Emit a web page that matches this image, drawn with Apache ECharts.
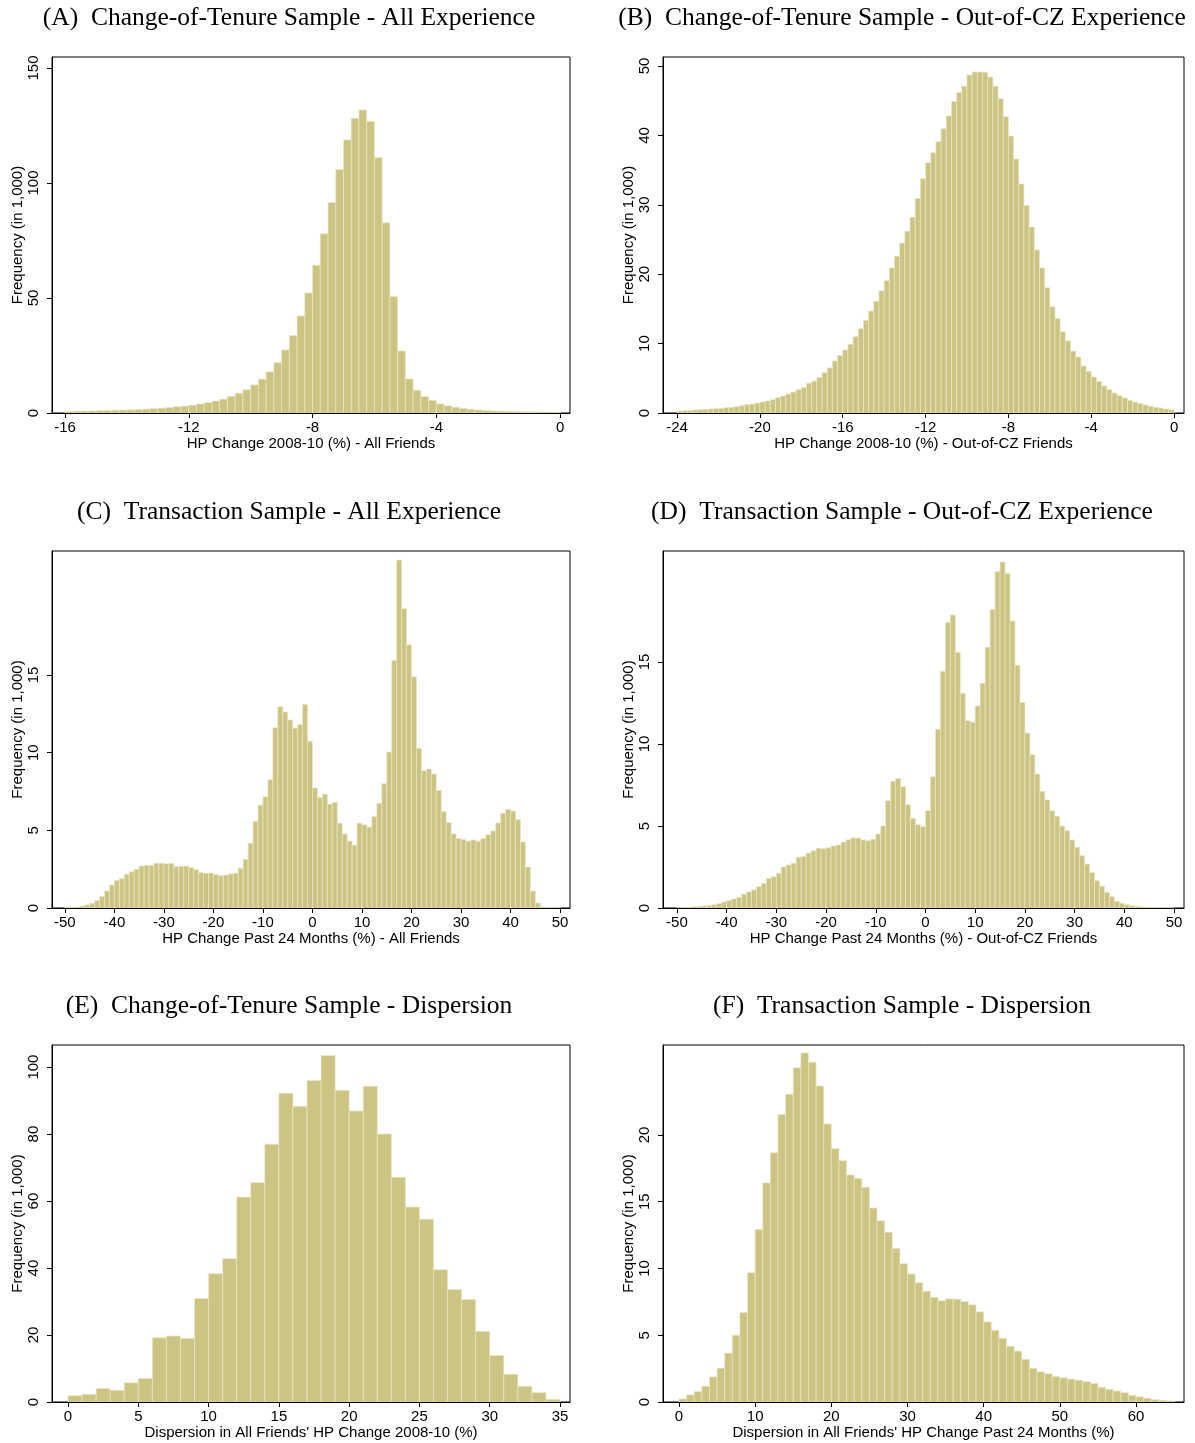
<!DOCTYPE html>
<html>
<head>
<meta charset="utf-8">
<script src="https://cdn.jsdelivr.net/npm/echarts@6/dist/echarts.min.js"></script>
<style>
html,body{margin:0;padding:0;background:#fff;}
#chart{width:1195px;height:1443px;}
</style>
</head>
<body>
<div id="chart"></div>
<script>
// ---------- data (frequencies in 1,000) ----------
const titles = [
  "(A)  Change-of-Tenure Sample - All Experience",
  "(B)  Change-of-Tenure Sample - Out-of-CZ Experience",
  "(C)  Transaction Sample - All Experience",
  "(D)  Transaction Sample - Out-of-CZ Experience",
  "(E)  Change-of-Tenure Sample - Dispersion",
  "(F)  Transaction Sample - Dispersion"
];
const xNames = [
  "HP Change 2008-10 (%) - All Friends",
  "HP Change 2008-10 (%) - Out-of-CZ Friends",
  "HP Change Past 24 Months (%) - All Friends",
  "HP Change Past 24 Months (%) - Out-of-CZ Friends",
  "Dispersion in All Friends' HP Change 2008-10 (%)",
  "Dispersion in All Friends' HP Change Past 24 Months (%)"
];
const yName = "Frequency (in 1,000)";

// bin start and width per panel
const binStart = [-16, -24, -50, -50, 0, 0];
const binWidth = [0.25, 0.25, 1, 1, 1, 1];

const countsA = [
  0.7, 0.8, 0.85, 0.9, 1.0, 1.1, 1.2, 1.3, 1.4, 1.5, 1.7, 1.9, 2.1, 2.4, 2.7, 3.0,
  3.4, 3.9, 4.5, 5.2, 6.0, 7.2, 8.6, 10.1, 12.2, 14.7, 17.9, 21.9, 27.4, 33.7, 42.2, 52.2,
  64.3, 77.9, 91.5, 105.9, 118.7, 128.2, 131.7, 126.8, 111.0, 82.7, 50.7, 27.0, 14.8, 9.9, 7.2, 5.5,
  4.0, 3.1, 2.5, 2.0, 1.6, 1.3, 1.1, 0.9, 0.8, 0.7, 0.6, 0.5, 0.45, 0.4, 0.35, 0.3
];
const countsB = [
  0.29, 0.34, 0.38, 0.43, 0.48, 0.53, 0.58, 0.62, 0.67, 0.77, 0.82, 0.91, 1.06, 1.2, 1.3, 1.44,
  1.58, 1.73, 1.92, 2.2, 2.45, 2.74, 3.02, 3.36, 3.65, 4.3, 4.6, 5.1, 5.8, 6.5, 7.5, 8.3,
  9.07, 9.9, 11.0, 12.15, 13.35, 14.7, 16.1, 17.6, 19.06, 20.9, 22.6, 24.5, 26.2, 28.2, 30.9, 33.75,
  36.05, 37.5, 39.1, 40.95, 42.8, 44.9, 46.2, 47.1, 48.7, 49.15, 49.15, 49.1, 48.4, 47.1, 45.3, 42.7,
  39.9, 36.6, 33.0, 29.9, 26.8, 23.5, 20.9, 18.05, 15.3, 13.6, 11.7, 10.4, 8.93, 8.07, 6.77, 6.0,
  5.18, 4.56, 3.89, 3.36, 2.88, 2.5, 2.16, 1.82, 1.58, 1.34, 1.15, 0.96, 0.82, 0.72, 0.58, 0.48
];
const countsC = [
  0.03, 0.05, 0.07, 0.13, 0.2, 0.3, 0.47, 0.75, 1.1, 1.48,
  1.78, 1.89, 2.17, 2.34, 2.5, 2.7, 2.75, 2.75, 2.88, 2.88,
  2.84, 2.86, 2.66, 2.68, 2.7, 2.6, 2.47, 2.27, 2.23, 2.25,
  2.15, 2.08, 2.12, 2.19, 2.24, 2.56, 3.14, 4.17, 5.57, 6.62,
  7.16, 8.26, 11.6, 12.95, 12.62, 12.1, 11.57, 11.8, 13.1, 10.73,
  7.72, 7.12, 7.33, 6.69, 6.8, 5.46, 4.77, 4.3, 4.04, 5.46,
  5.35, 5.2, 5.89, 6.75, 8.0, 10.04, 15.94, 22.4, 19.27, 16.95,
  14.88, 10.28, 8.84, 8.95, 8.62, 7.57, 6.2, 5.5, 4.77, 4.47,
  4.4, 4.31, 4.38, 4.3, 4.46, 4.72, 4.96, 5.47, 6.09, 6.35,
  6.24, 5.69, 4.25, 2.64, 1.09, 0.32, 0.08, 0.04, 0.02, 0.01
];
const countsD = [
  0.02, 0.04, 0.06, 0.08, 0.1, 0.12, 0.15, 0.2, 0.27, 0.37,
  0.45, 0.55, 0.65, 0.84, 0.98, 1.1, 1.3, 1.5, 1.8, 1.9,
  2.12, 2.5, 2.63, 2.73, 3.1, 3.14, 3.35, 3.49, 3.65, 3.61,
  3.67, 3.78, 3.84, 4.02, 4.16, 4.27, 4.27, 4.15, 4.1, 4.19,
  4.51, 5.0, 6.54, 7.72, 7.9, 7.4, 6.3, 5.47, 5.08, 4.96,
  5.93, 8.0, 10.9, 14.43, 17.42, 17.87, 15.6, 13.1, 11.42, 11.32,
  12.32, 13.7, 15.9, 18.2, 20.5, 21.1, 20.4, 17.5, 14.8, 12.54,
  10.67, 9.35, 8.17, 7.11, 6.59, 5.93, 5.6, 4.99, 4.71, 4.15,
  3.7, 3.19, 2.68, 2.16, 1.67, 1.33, 0.96, 0.69, 0.41, 0.29,
  0.2, 0.14, 0.1, 0.07, 0.05, 0.04, 0.03, 0.02, 0.02, 0.01
];
const countsE = [
  1.9, 2.3, 4.0, 3.5, 5.7, 7.0, 19.2, 19.7, 19.0, 30.9,
  38.3, 42.8, 61.2, 65.5, 77.0, 92.2, 88.3, 96.0, 103.5, 93.1,
  86.9, 94.3, 80.0, 67.1, 58.2, 54.6, 39.5, 33.6, 30.6, 21.1,
  13.9, 8.3, 4.7, 2.8, 0.8
];
const countsF = [
  0.23, 0.53, 0.78, 1.18, 1.88, 2.53, 3.66, 5.0, 6.7, 9.69,
  12.92, 16.41, 18.67, 21.53, 23.06, 25.04, 26.15, 25.45, 23.66, 20.83,
  18.97, 18.07, 17.01, 16.76, 16.09, 14.53, 13.58, 12.72, 11.49, 10.36,
  9.59, 8.93, 8.3, 7.85, 7.58, 7.73, 7.7, 7.53, 7.28, 6.75,
  6.0, 5.37, 4.77, 4.17, 3.81, 3.19, 2.53, 2.26, 2.11, 1.91,
  1.81, 1.71, 1.63, 1.53, 1.38, 1.1, 0.95, 0.83, 0.7, 0.5,
  0.38, 0.28, 0.18, 0.13, 0.08
];
const allCounts = [countsA, countsB, countsC, countsD, countsE, countsF];

// tick labels
const xTicks = [
  [-16, -12, -8, -4, 0],
  [-24, -20, -16, -12, -8, -4, 0],
  [-50, -40, -30, -20, -10, 0, 10, 20, 30, 40, 50],
  [-50, -40, -30, -20, -10, 0, 10, 20, 30, 40, 50],
  [0, 5, 10, 15, 20, 25, 30, 35],
  [0, 10, 20, 30, 40, 50, 60]
];
const yTicks = [
  [0, 50, 100, 150],
  [0, 10, 20, 30, 40, 50],
  [0, 5, 10, 15],
  [0, 5, 10, 15],
  [0, 20, 40, 60, 80, 100],
  [0, 5, 10, 15, 20]
];
// axis extents (plot region)
const xRange = [[-16.42, 0.32], [-24.68, 0.48], [-52.6, 52.0], [-52.8, 52.0], [-1.14, 35.71], [-2.1, 66.3]];
const yRange = [[0, 154.8], [0, 51.3], [0, 22.98], [0, 21.77], [0, 106.6], [0, 26.74]];

// ---------- layout ----------
const grids = [
  {left: 52, top: 57, width: 518, height: 356},
  {left: 663, top: 57, width: 521, height: 356},
  {left: 52, top: 551, width: 518, height: 357},
  {left: 663, top: 551, width: 521, height: 357},
  {left: 52, top: 1045, width: 518, height: 357},
  {left: 663, top: 1045, width: 521, height: 357}
];
const titlePos = [[289, 18], [902, 18], [289, 512], [902, 512], [289, 1006], [902, 1006]];

const FILL = '#cbc483';
const EDGE = '#e9e6c6';
const SANS = 'Liberation Sans, Arial, sans-serif';
const SERIF = 'Liberation Serif, Times New Roman, serif';

function renderItem(params, api) {
  const x0 = api.value(0), x1 = api.value(1), v = api.value(2);
  const p0 = api.coord([x0, v]);
  const p1 = api.coord([x1, 0]);
  return {
    type: 'rect',
    shape: {x: p0[0], y: p0[1], width: p1[0] - p0[0], height: p1[1] - p0[1]},
    style: {fill: FILL, stroke: EDGE, lineWidth: 0.7}
  };
}

const option = {
  animation: false,
  backgroundColor: '#fff',
  grid: grids.map(g => Object.assign({show: true, borderColor: '#000', borderWidth: 1, backgroundColor: '#fff', containLabel: false}, g)),
  xAxis: grids.map((g, i) => ({
    type: 'value', gridIndex: i, min: xRange[i][0], max: xRange[i][1],
    name: xNames[i], nameLocation: 'middle', nameGap: 23,
    nameTextStyle: {fontFamily: SANS, fontSize: 15, color: '#000'},
    axisLine: {show: true, onZero: false, lineStyle: {color: '#000', width: 1}},
    axisTick: {show: true, inside: false, length: 5, lineStyle: {color: '#000'}, customValues: xTicks[i]},
    axisLabel: {fontFamily: SANS, fontSize: 15, color: '#000', margin: 7, customValues: xTicks[i]},
    splitLine: {show: false}
  })),
  yAxis: grids.map((g, i) => ({
    type: 'value', gridIndex: i, min: yRange[i][0], max: yRange[i][1],
    name: yName, nameLocation: 'middle', nameGap: 27, nameRotate: 90,
    nameTextStyle: {fontFamily: SANS, fontSize: 15, color: '#000'},
    axisLine: {show: true, onZero: false, lineStyle: {color: '#000', width: 1}},
    axisTick: {show: true, inside: false, length: 5, lineStyle: {color: '#000'}, customValues: yTicks[i]},
    axisLabel: {fontFamily: SANS, fontSize: 15, color: '#000', margin: 11, rotate: 90, customValues: yTicks[i]},
    splitLine: {show: false}
  })),
  graphic: titles.map((t, i) => ({
    type: 'text', x: titlePos[i][0], y: titlePos[i][1],
    style: {text: t, font: '25.5px ' + SERIF, fill: '#000', textAlign: 'center', textVerticalAlign: 'middle'}
  })),
  series: allCounts.map((counts, i) => ({
    type: 'custom', xAxisIndex: i, yAxisIndex: i,
    renderItem: renderItem,
    encode: {x: [0, 1], y: 2},
    clip: true,
    data: counts.map((c, k) => [binStart[i] + k * binWidth[i], binStart[i] + (k + 1) * binWidth[i], c])
  }))
};

const chart = echarts.init(document.getElementById('chart'), null, {renderer: 'canvas'});
chart.setOption(option);
</script>
</body>
</html>
